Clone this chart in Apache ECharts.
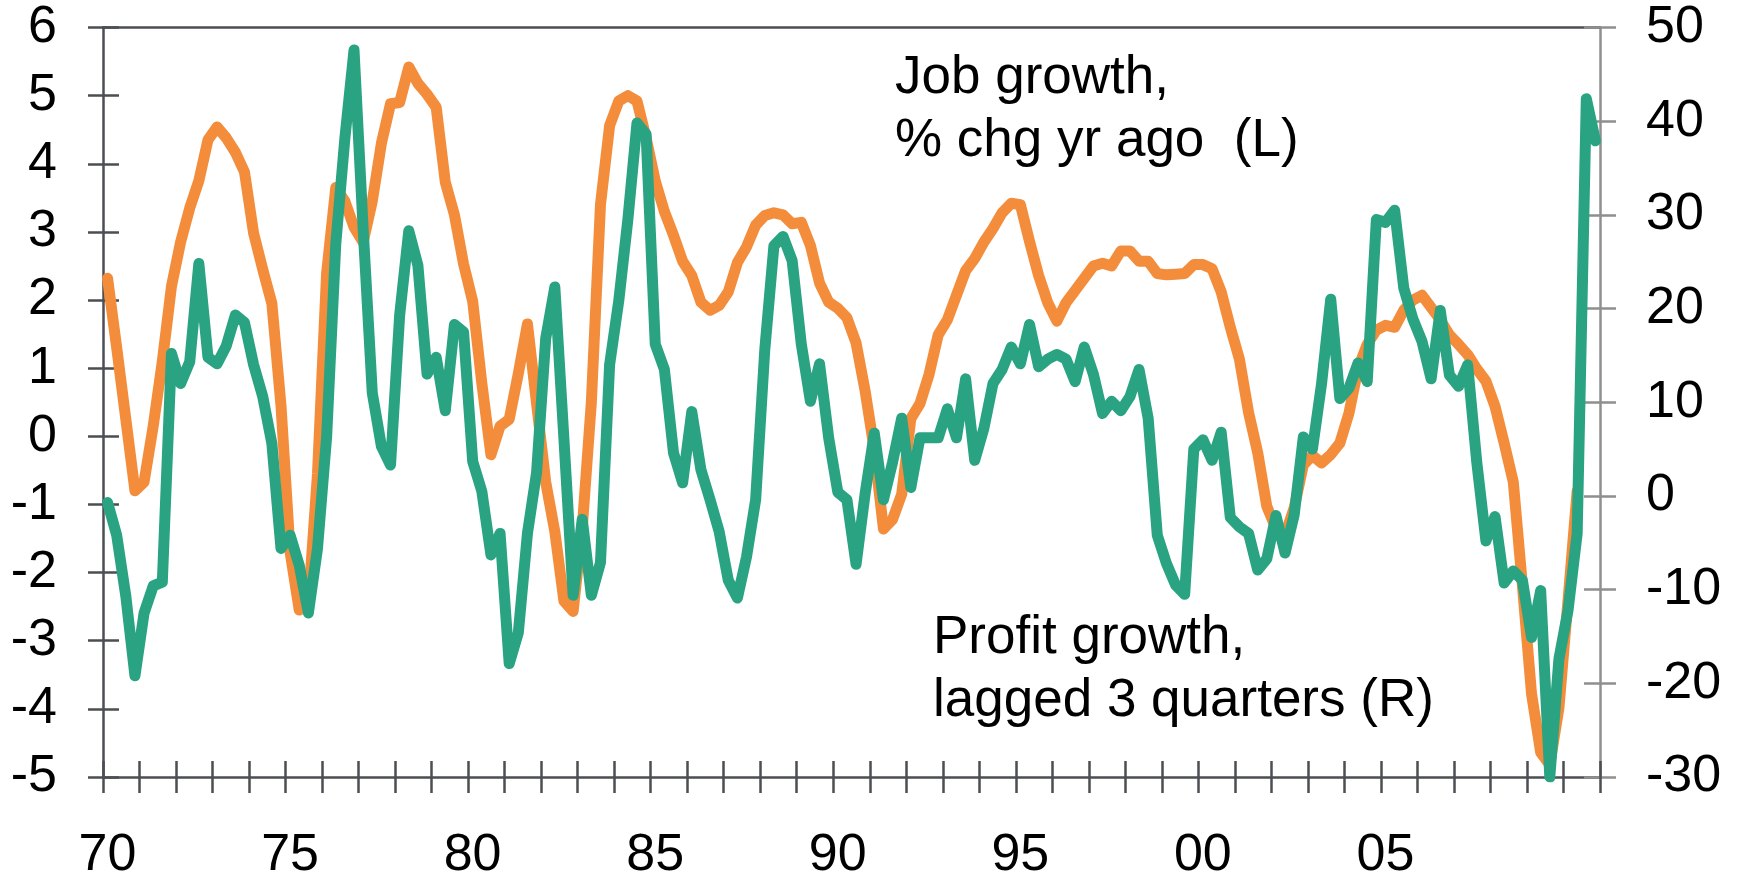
<!DOCTYPE html>
<html>
<head>
<meta charset="utf-8">
<script src="https://cdn.jsdelivr.net/npm/echarts@6/dist/echarts.min.js"></script>
<style>
html,body{margin:0;padding:0;background:#fff;}
#chart{width:1739px;height:878px;}
</style>
</head>
<body>
<div id="chart"></div>
<script>
// Quarterly data, first point = 1970 Q1
const startYear = 1970;
const xMin = 1970, xMax = 2011;
const leftMin = -5, leftMax = 6, leftStep = 1;
const rightMin = -30, rightMax = 50, rightStep = 10;
const labelYears = [1970, 1975, 1980, 1985, 1990, 1995, 2000, 2005];

// Job growth, % chg yr ago (left axis)
const jobGrowth = [
  2.32, 1.30, 0.25, -0.80,
  -0.67, 0.15, 1.10, 2.20,
  2.85, 3.35, 3.75, 4.35,
  4.54, 4.38, 4.17, 3.88,
  2.98, 2.45, 1.95, 0.45,
  -1.70, -2.55, -2.45, -0.55,
  2.40, 3.65, 3.45, 3.07,
  2.85, 3.45, 4.30, 4.88,
  4.90, 5.42, 5.18, 5.02,
  4.83, 3.73, 3.25, 2.53,
  1.98, 0.78, -0.27, 0.15,
  0.25, 0.92, 1.65, 0.48,
  -0.67, -1.40, -2.42, -2.57,
  -1.35, 0.50, 3.40, 4.56,
  4.92, 5.00, 4.92, 4.38,
  3.75, 3.30, 2.95, 2.57,
  2.36, 1.97, 1.85, 1.92,
  2.12, 2.55, 2.78, 3.10,
  3.24, 3.28, 3.25, 3.12,
  3.14, 2.80, 2.25, 1.97,
  1.88, 1.74, 1.37, 0.66,
  -0.20, -1.36, -1.22, -0.85,
  0.26, 0.48, 0.91, 1.49,
  1.71, 2.07, 2.43, 2.61,
  2.85, 3.05, 3.28, 3.42,
  3.40, 2.86, 2.36, 1.96,
  1.69, 1.96, 2.14, 2.32,
  2.50, 2.54, 2.50, 2.72,
  2.72, 2.57, 2.57, 2.39,
  2.37, 2.38, 2.39, 2.52,
  2.52, 2.46, 2.12, 1.60,
  1.13, 0.35, -0.24, -1.03,
  -1.35, -1.45, -1.05, -0.42,
  -0.28, -0.39, -0.27, -0.10,
  0.34, 1.00, 1.35, 1.56,
  1.63, 1.60, 1.85, 2.00,
  2.07, 1.89, 1.71, 1.49,
  1.35, 1.20, 0.99, 0.81,
  0.44, -0.10, -0.67, -2.19,
  -3.78, -4.64, -4.82, -3.99,
  -2.40, -0.80
];

// Profit growth, lagged 3 quarters (right axis)
const profitGrowth = [
  -0.7, -4.2, -10.7, -19.2,
  -12.5, -9.6, -9.2, 15.2,
  12.0, 14.3, 24.8, 14.8,
  14.1, 16.0, 19.3, 18.5,
  14.0, 10.6, 5.6, -5.6,
  -4.2, -7.4, -12.5, -5.6,
  6.3, 26.9, 38.2, 47.6,
  28.5, 11.0, 5.3, 3.3,
  19.3, 28.3, 24.6, 13.0,
  14.8, 9.1, 18.3, 17.5,
  3.7, 0.5, -6.3, -4.0,
  -17.9, -14.6, -4.0, 2.5,
  16.8, 22.3, 6.0, -10.6,
  -2.5, -10.6, -7.1, 14.0,
  20.8, 29.5, 39.8, 38.6,
  16.2, 13.5, 4.6, 1.4,
  9.0, 2.8, -0.4, -3.8,
  -9.0, -10.9, -6.5, -0.4,
  15.6, 26.7, 27.7, 25.1,
  16.2, 10.1, 14.1, 6.2,
  0.4, -0.4, -7.3, 0.3,
  6.7, -0.4, 3.6, 8.3,
  0.9, 6.2, 6.2, 6.2,
  9.3, 6.2, 12.5, 3.8,
  7.2, 12.0, 13.5, 15.9,
  14.1, 18.3, 13.8, 14.6,
  15.1, 14.6, 12.2, 15.9,
  13.0, 8.8, 10.1, 9.1,
  10.6, 13.5, 8.3, -4.2,
  -7.2, -9.5, -10.5, 5.0,
  6.0, 3.8, 6.8, -2.3,
  -3.3, -4.0, -7.9, -6.7,
  -2.1, -6.1, -2.0, 6.3,
  5.0, 12.0, 21.0, 10.4,
  11.5, 14.2, 12.2, 29.5,
  29.2, 30.5, 22.2, 18.9,
  16.5, 12.5, 19.8, 12.9,
  11.7, 14.0, 3.6, -4.8,
  -2.2, -9.3, -8.0, -9.0,
  -15.1, -10.1, -30.0, -17.4,
  -12.2, -4.0, 42.4, 37.9
];

const jobLabel = ['Job growth,', '% chg yr ago  (L)'];
const profitLabel = ['Profit growth,', 'lagged 3 quarters (R)'];

const toQuarterly = arr => arr.map((v, i) => [startYear + (i + 0.5) / 4, v]);

const FONT = '"Liberation Sans", Arial, sans-serif';
const DARK = '#4b4e53';
const LIGHT = '#8f8f8f';
const ORANGE = '#F38D3C';
const GREEN = '#2AA383';

const xBase = {
  type: 'value', min: xMin, max: xMax, interval: 1,
  splitLine: {show: false}
};

const chart = echarts.init(document.getElementById('chart'), null, {renderer: 'canvas'});
chart.setOption({
  animation: false,
  backgroundColor: '#fff',
  grid: {left: 103, right: 139, top: 27.5, bottom: 101, containLabel: false, outerBoundsMode: 'none'},
  xAxis: [
    Object.assign({}, xBase, {
      position: 'bottom',
      axisLine: {show: true, onZero: false, lineStyle: {color: DARK, width: 2.5}},
      axisTick: {show: true, inside: false, length: 16, lineStyle: {color: DARK, width: 2.5}},
      axisLabel: {
        show: true, margin: 53, color: '#000', fontSize: 52, fontFamily: FONT, lineHeight: 52,
        padding: [0, 0, 0, 9],
        formatter: v => labelYears.indexOf(v) >= 0 ? String(v).slice(2) : ''
      }
    }),
    Object.assign({}, xBase, {
      position: 'bottom',
      axisLine: {show: false, onZero: false},
      axisTick: {show: true, inside: true, length: 16, lineStyle: {color: DARK, width: 2.5}},
      axisLabel: {show: false}
    }),
    Object.assign({}, xBase, {
      position: 'top',
      axisLine: {show: true, onZero: false, lineStyle: {color: DARK, width: 2.5}},
      axisTick: {show: false},
      axisLabel: {show: false}
    })
  ],
  yAxis: [
    {
      type: 'value', position: 'left', min: leftMin, max: leftMax, interval: leftStep,
      splitLine: {show: false},
      axisLine: {show: true, onZero: false, lineStyle: {color: DARK, width: 2.5}},
      axisTick: {show: true, inside: false, length: 15, lineStyle: {color: DARK, width: 2.5}},
      axisLabel: {margin: 46, color: '#000', fontSize: 52, fontFamily: FONT, lineHeight: 52}
    },
    {
      type: 'value', position: 'left', min: leftMin, max: leftMax, interval: leftStep,
      splitLine: {show: false},
      axisLine: {show: false, onZero: false},
      axisTick: {show: true, inside: true, length: 16, lineStyle: {color: DARK, width: 2.5}},
      axisLabel: {show: false}
    },
    {
      type: 'value', position: 'right', min: rightMin, max: rightMax, interval: rightStep,
      splitLine: {show: false},
      axisLine: {show: true, onZero: false, lineStyle: {color: LIGHT, width: 2.5}},
      axisTick: {show: true, inside: false, length: 16, lineStyle: {color: LIGHT, width: 2.5}},
      axisLabel: {margin: 46, color: '#000', fontSize: 52, fontFamily: FONT, lineHeight: 52}
    },
    {
      type: 'value', position: 'right', min: rightMin, max: rightMax, interval: rightStep,
      splitLine: {show: false},
      axisLine: {show: false, onZero: false},
      axisTick: {show: true, inside: true, length: 16, lineStyle: {color: LIGHT, width: 2.5}},
      axisLabel: {show: false}
    }
  ],
  series: [
    {
      name: 'Job growth', type: 'line', xAxisIndex: 0, yAxisIndex: 0,
      data: toQuarterly(jobGrowth), showSymbol: false, symbol: 'none', clip: true,
      lineStyle: {color: ORANGE, width: 11, join: 'round', cap: 'round'}, z: 2
    },
    {
      name: 'Profit growth', type: 'line', xAxisIndex: 0, yAxisIndex: 2,
      data: toQuarterly(profitGrowth), showSymbol: false, symbol: 'none', clip: true,
      lineStyle: {color: GREEN, width: 11, join: 'round', cap: 'round'}, z: 3
    }
  ],
  graphic: [
    {
      type: 'text', left: 895, top: 47, z: 10,
      style: {text: jobLabel.join('\n'), font: '53px ' + FONT, fontSize: 53, fontFamily: FONT, lineHeight: 63, fill: '#000'}
    },
    {
      type: 'text', left: 933, top: 607, z: 10,
      style: {text: profitLabel.join('\n'), font: '53px ' + FONT, fontSize: 53, fontFamily: FONT, lineHeight: 63, fill: '#000'}
    }
  ]
});
</script>
</body>
</html>
